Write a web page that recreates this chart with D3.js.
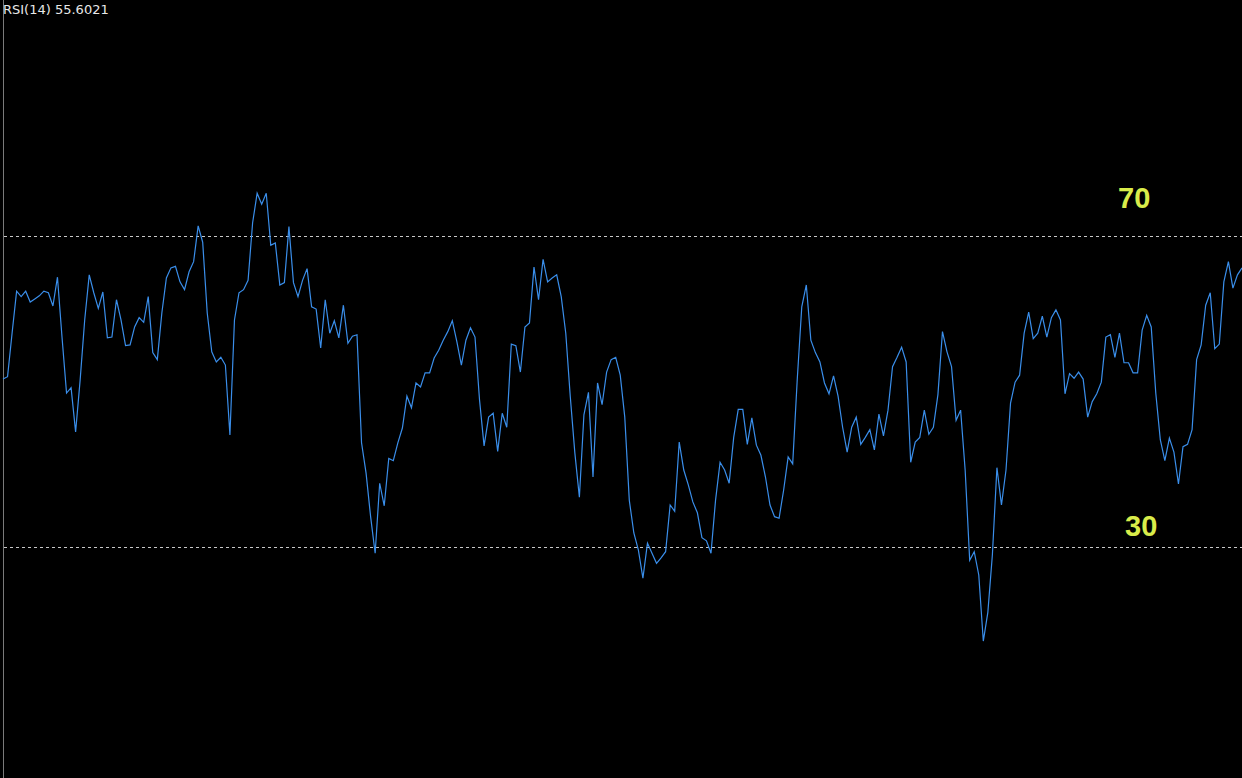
<!DOCTYPE html>
<html><head><meta charset="utf-8">
<script src="https://cdn.jsdelivr.net/npm/d3@7"></script>
<style>html,body{margin:0;padding:0;background:#000;overflow:hidden}</style>
</head><body>
<svg id="chart" width="1242" height="778"></svg>
<script>
const title = "RSI(14) 55.6021";
const levels = [70, 30];
const levelLabels = ["70", "30"];
const rsiValues = [
51.6, 51.9, 57.5, 62.9, 62.2, 62.9, 61.5, 61.9, 62.3, 62.9,
62.7, 61.0, 64.7, 57.0, 49.8, 50.5, 44.8, 51.5, 59.2,
65.0, 62.7, 60.7, 62.8, 56.9, 57.0, 61.8, 59.2, 55.9, 56.0,
58.3, 59.5, 58.9, 62.2, 55.0, 54.1, 60.1, 64.6, 65.9, 66.1,
64.1, 63.1, 65.4, 66.7, 71.3, 69.2, 60.1, 55.1, 53.8, 54.4,
53.4, 44.4, 59.2, 62.7, 63.1, 64.3, 71.7, 75.5, 74.1,
75.5, 68.8, 69.1, 63.7, 64.0, 71.2, 64.0, 62.2, 64.3, 65.8,
60.9, 60.6, 55.6, 61.8, 57.5, 59.1, 56.9, 61.1, 56.2, 57.1,
57.3, 43.4, 39.5, 33.9, 29.2, 38.2, 35.3, 41.4, 41.1, 43.4,
45.3, 49.4, 47.9, 51.1, 50.6, 52.4, 52.4, 54.3, 55.3, 56.6,
57.7, 59.1, 56.4, 53.4, 56.6, 58.2, 57.0, 48.9, 43.0, 46.7,
47.2, 42.3, 47.2, 45.4, 56.1, 55.9, 52.5, 58.3, 58.8, 66.0,
61.8, 67.0, 64.1, 64.6, 65.0, 62.2, 57.5, 49.3, 42.1, 36.4,
47.0, 49.9, 39.0, 51.1, 48.3, 52.5, 54.1, 54.4, 52.1, 46.7,
36.0, 31.8, 29.6, 26.0, 30.5, 29.2, 27.9, 28.6, 29.4, 35.4,
34.6, 43.5, 39.9, 38.0, 35.8, 34.4, 31.2, 30.8, 29.2, 36.0,
40.9, 39.9, 38.2, 44.1, 47.7, 47.7, 43.2, 46.6, 43.1, 41.8,
39.0, 35.4, 33.9, 33.7, 37.3, 41.6, 40.7, 51.5, 60.9, 63.7,
56.6, 55.0, 53.8, 51.1, 49.7, 52.0, 49.4, 45.4, 42.2, 45.4,
46.7, 43.2, 44.1, 45.1, 42.5, 47.1, 44.3, 47.6, 53.2, 54.4,
55.7, 53.8, 40.9, 43.5, 44.1, 47.6, 44.5, 45.4, 49.6, 57.7,
55.1, 53.2, 46.3, 47.6, 39.9, 28.3, 29.4, 26.4, 17.9, 21.6,
29.0, 40.2, 35.4, 39.9, 48.5, 51.2, 52.1, 57.5, 60.2, 56.8,
57.5, 59.7, 57.0, 59.5, 60.5, 59.2, 49.7, 52.3, 51.7, 52.5,
51.6, 46.7, 48.7, 49.7, 51.2, 57.0, 57.3, 54.4, 57.5, 53.7,
53.7, 52.4, 52.4, 57.9, 59.8, 58.3, 49.8, 43.8, 41.1, 44.0,
42.2, 38.1, 42.9, 43.2, 45.1, 54.1, 56.0, 61.1, 62.7, 55.5,
56.1, 64.1, 66.7, 63.3, 65.0, 65.9
];

const W = 1242, H = 778;
const svg = d3.select("#chart");
svg.append("rect").attr("width", W).attr("height", H).attr("fill", "#000");

const x = d3.scaleLinear().domain([0, rsiValues.length - 1]).range([3, 1242]);
const y = d3.scaleLinear().domain([30, 70]).range([547, 236]);

// left border
svg.append("line")
  .attr("x1", 3.5).attr("x2", 3.5).attr("y1", 0).attr("y2", H)
  .attr("stroke", "#7a7a7a").attr("stroke-width", 1);

// level lines
svg.selectAll("line.lvl").data(levels).join("line")
  .attr("class", "lvl")
  .attr("x1", 4).attr("x2", W)
  .attr("y1", d => Math.round(y(d)) + 0.5)
  .attr("y2", d => Math.round(y(d)) + 0.5)
  .attr("stroke", "#c8c8c8").attr("stroke-width", 1)
  .attr("stroke-dasharray", "3,3");

// RSI line
const line = d3.line().x((d, i) => x(i)).y(d => y(d));
svg.append("path").datum(rsiValues)
  .attr("d", line)
  .attr("fill", "none")
  .attr("stroke", "#3a8eea")
  .attr("stroke-width", 1.2)
  .attr("stroke-linejoin", "miter");

// level labels
const labelX = [1118, 1125];
const labelDy = [-28, -11];
svg.selectAll("text.lvlLabel").data(levels).join("text")
  .attr("class", "lvlLabel")
  .attr("x", (d, i) => labelX[i])
  .attr("y", (d, i) => y(d) + labelDy[i])
  .attr("fill", "#d9ec4a")
  .attr("font-family", "Liberation Sans, Arial, sans-serif")
  .attr("font-weight", "bold")
  .attr("font-size", 29)
  .text((d, i) => levelLabels[i]);

// title
svg.append("text")
  .attr("x", 3).attr("y", 14)
  .attr("fill", "#e8e8e8")
  .attr("font-family", "DejaVu Sans, sans-serif")
  .attr("font-size", 13)
  .text(title);
</script>
</body></html>
